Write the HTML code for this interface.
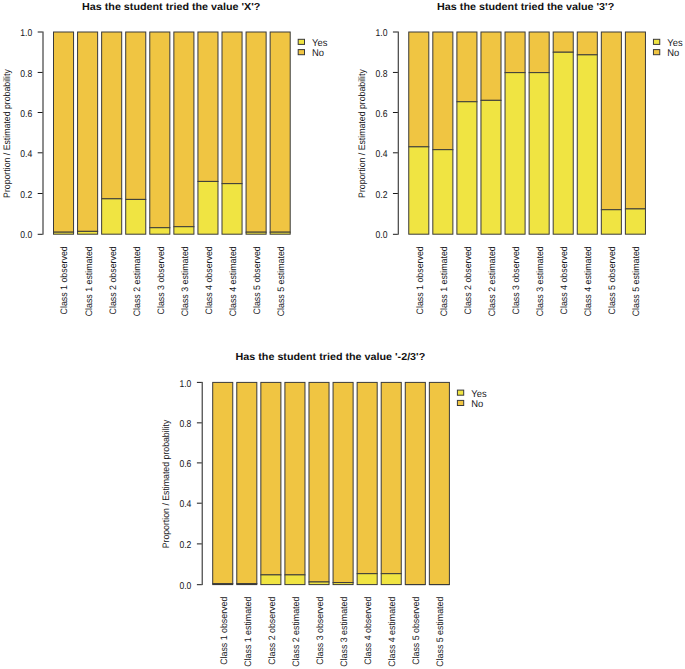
<!DOCTYPE html>
<html><head><meta charset="utf-8"><title>Has the student tried the value</title>
<style>
html,body{margin:0;padding:0;background:#fff;width:685px;height:669px;overflow:hidden}
svg{display:block}
text{font-family:"Liberation Sans",sans-serif;fill:#222;text-rendering:geometricPrecision}
.t{font-weight:bold;font-size:10.2px;fill:#111}
.a{font-size:9.4px;fill:#161620}
.tl{font-size:9.9px}
.lg{font-size:9.9px}
.ax{stroke:#000;stroke-width:0.9}
.tk{stroke:#000;stroke-width:0.9}
.b{stroke:#3a3a3a;stroke-width:1}
</style></head>
<body>
<svg width="685" height="669" viewBox="0 0 685 669">
<g transform="translate(0,0)">
<text transform="translate(171.20,10.00) scale(1.055,1)" text-anchor="middle" class="t">Has the student tried the value 'X'?</text>
<line x1="43.0" y1="31.5" x2="43.0" y2="234.7" class="ax"/>
<line x1="37.7" y1="234.30" x2="42.55" y2="234.30" class="tk"/>
<text transform="translate(32.20,238.40) scale(0.87,1)" text-anchor="end" class="a tl">0.0</text>
<line x1="37.7" y1="193.50" x2="42.55" y2="193.50" class="tk"/>
<text transform="translate(32.20,197.60) scale(0.87,1)" text-anchor="end" class="a tl">0.2</text>
<line x1="37.7" y1="152.80" x2="42.55" y2="152.80" class="tk"/>
<text transform="translate(32.20,156.90) scale(0.87,1)" text-anchor="end" class="a tl">0.4</text>
<line x1="37.7" y1="112.50" x2="42.55" y2="112.50" class="tk"/>
<text transform="translate(32.20,116.60) scale(0.87,1)" text-anchor="end" class="a tl">0.6</text>
<line x1="37.7" y1="72.45" x2="42.55" y2="72.45" class="tk"/>
<text transform="translate(32.20,76.55) scale(0.87,1)" text-anchor="end" class="a tl">0.8</text>
<line x1="37.7" y1="32.00" x2="42.55" y2="32.00" class="tk"/>
<text transform="translate(32.20,36.10) scale(0.87,1)" text-anchor="end" class="a tl">1.0</text>
<text transform="translate(10.10,133.60) rotate(-90) scale(0.932,1)" text-anchor="middle" class="a">Proportion / Estimated probability</text>
<rect x="53.50" y="32.00" width="20.06" height="200.18" fill="#F0C542" class="b"/>
<rect x="53.50" y="232.18" width="20.06" height="2.02" fill="#F0E442" class="b"/>
<text transform="translate(67.43,246.30) rotate(-90) scale(0.94,1)" text-anchor="end" class="a">Class 1 observed</text>
<rect x="77.57" y="32.00" width="20.06" height="199.37" fill="#F0C542" class="b"/>
<rect x="77.57" y="231.37" width="20.06" height="2.83" fill="#F0E442" class="b"/>
<text transform="translate(91.50,246.30) rotate(-90) scale(0.94,1)" text-anchor="end" class="a">Class 1 estimated</text>
<rect x="101.64" y="32.00" width="20.06" height="166.81" fill="#F0C542" class="b"/>
<rect x="101.64" y="198.81" width="20.06" height="35.38" fill="#F0E442" class="b"/>
<text transform="translate(115.57,246.30) rotate(-90) scale(0.94,1)" text-anchor="end" class="a">Class 2 observed</text>
<rect x="125.71" y="32.00" width="20.06" height="167.42" fill="#F0C542" class="b"/>
<rect x="125.71" y="199.42" width="20.06" height="34.78" fill="#F0E442" class="b"/>
<text transform="translate(139.64,246.30) rotate(-90) scale(0.94,1)" text-anchor="end" class="a">Class 2 estimated</text>
<rect x="149.78" y="32.00" width="20.06" height="195.73" fill="#F0C542" class="b"/>
<rect x="149.78" y="227.73" width="20.06" height="6.47" fill="#F0E442" class="b"/>
<text transform="translate(163.71,246.30) rotate(-90) scale(0.94,1)" text-anchor="end" class="a">Class 3 observed</text>
<rect x="173.86" y="32.00" width="20.06" height="194.72" fill="#F0C542" class="b"/>
<rect x="173.86" y="226.72" width="20.06" height="7.48" fill="#F0E442" class="b"/>
<text transform="translate(187.79,246.30) rotate(-90) scale(0.94,1)" text-anchor="end" class="a">Class 3 estimated</text>
<rect x="197.93" y="32.00" width="20.06" height="149.43" fill="#F0C542" class="b"/>
<rect x="197.93" y="181.43" width="20.06" height="52.77" fill="#F0E442" class="b"/>
<text transform="translate(211.86,246.30) rotate(-90) scale(0.94,1)" text-anchor="end" class="a">Class 4 observed</text>
<rect x="222.00" y="32.00" width="20.06" height="151.65" fill="#F0C542" class="b"/>
<rect x="222.00" y="183.65" width="20.06" height="50.55" fill="#F0E442" class="b"/>
<text transform="translate(235.93,246.30) rotate(-90) scale(0.94,1)" text-anchor="end" class="a">Class 4 estimated</text>
<rect x="246.07" y="32.00" width="20.06" height="200.18" fill="#F0C542" class="b"/>
<rect x="246.07" y="232.18" width="20.06" height="2.02" fill="#F0E442" class="b"/>
<text transform="translate(260.00,246.30) rotate(-90) scale(0.94,1)" text-anchor="end" class="a">Class 5 observed</text>
<rect x="270.14" y="32.00" width="20.06" height="200.18" fill="#F0C542" class="b"/>
<rect x="270.14" y="232.18" width="20.06" height="2.02" fill="#F0E442" class="b"/>
<text transform="translate(284.07,246.30) rotate(-90) scale(0.94,1)" text-anchor="end" class="a">Class 5 estimated</text>
<g transform="translate(0,0.0)">
<rect x="298.2" y="39.3" width="6.3" height="5.1" fill="#F0E442" class="b"/>
<rect x="298.2" y="49.6" width="6.3" height="5.1" fill="#F0C542" class="b"/>
<text transform="translate(312.10,45.90) scale(0.95,1)" class="a lg">Yes</text>
<text transform="translate(312.10,55.90) scale(0.95,1)" class="a lg">No</text>
</g>
</g>
<g transform="translate(355.25,0)">
<text transform="translate(170.40,10.00) scale(1.055,1)" text-anchor="middle" class="t">Has the student tried the value '3'?</text>
<line x1="43.0" y1="31.5" x2="43.0" y2="234.7" class="ax"/>
<line x1="37.7" y1="234.30" x2="42.55" y2="234.30" class="tk"/>
<text transform="translate(32.20,238.40) scale(0.87,1)" text-anchor="end" class="a tl">0.0</text>
<line x1="37.7" y1="193.50" x2="42.55" y2="193.50" class="tk"/>
<text transform="translate(32.20,197.60) scale(0.87,1)" text-anchor="end" class="a tl">0.2</text>
<line x1="37.7" y1="152.80" x2="42.55" y2="152.80" class="tk"/>
<text transform="translate(32.20,156.90) scale(0.87,1)" text-anchor="end" class="a tl">0.4</text>
<line x1="37.7" y1="112.50" x2="42.55" y2="112.50" class="tk"/>
<text transform="translate(32.20,116.60) scale(0.87,1)" text-anchor="end" class="a tl">0.6</text>
<line x1="37.7" y1="72.45" x2="42.55" y2="72.45" class="tk"/>
<text transform="translate(32.20,76.55) scale(0.87,1)" text-anchor="end" class="a tl">0.8</text>
<line x1="37.7" y1="32.00" x2="42.55" y2="32.00" class="tk"/>
<text transform="translate(32.20,36.10) scale(0.87,1)" text-anchor="end" class="a tl">1.0</text>
<text transform="translate(10.10,133.60) rotate(-90) scale(0.932,1)" text-anchor="middle" class="a">Proportion / Estimated probability</text>
<rect x="53.50" y="32.00" width="20.06" height="114.85" fill="#F0C542" class="b"/>
<rect x="53.50" y="146.85" width="20.06" height="87.35" fill="#F0E442" class="b"/>
<text transform="translate(67.43,246.30) rotate(-90) scale(0.94,1)" text-anchor="end" class="a">Class 1 observed</text>
<rect x="77.57" y="32.00" width="20.06" height="117.68" fill="#F0C542" class="b"/>
<rect x="77.57" y="149.68" width="20.06" height="84.52" fill="#F0E442" class="b"/>
<text transform="translate(91.50,246.30) rotate(-90) scale(0.94,1)" text-anchor="end" class="a">Class 1 estimated</text>
<rect x="101.64" y="32.00" width="20.06" height="69.76" fill="#F0C542" class="b"/>
<rect x="101.64" y="101.76" width="20.06" height="132.44" fill="#F0E442" class="b"/>
<text transform="translate(115.57,246.30) rotate(-90) scale(0.94,1)" text-anchor="end" class="a">Class 2 observed</text>
<rect x="125.71" y="32.00" width="20.06" height="68.34" fill="#F0C542" class="b"/>
<rect x="125.71" y="100.34" width="20.06" height="133.86" fill="#F0E442" class="b"/>
<text transform="translate(139.64,246.30) rotate(-90) scale(0.94,1)" text-anchor="end" class="a">Class 2 estimated</text>
<rect x="149.78" y="32.00" width="20.06" height="40.64" fill="#F0C542" class="b"/>
<rect x="149.78" y="72.64" width="20.06" height="161.56" fill="#F0E442" class="b"/>
<text transform="translate(163.71,246.30) rotate(-90) scale(0.94,1)" text-anchor="end" class="a">Class 3 observed</text>
<rect x="173.86" y="32.00" width="20.06" height="40.64" fill="#F0C542" class="b"/>
<rect x="173.86" y="72.64" width="20.06" height="161.56" fill="#F0E442" class="b"/>
<text transform="translate(187.79,246.30) rotate(-90) scale(0.94,1)" text-anchor="end" class="a">Class 3 estimated</text>
<rect x="197.93" y="32.00" width="20.06" height="20.22" fill="#F0C542" class="b"/>
<rect x="197.93" y="52.22" width="20.06" height="181.98" fill="#F0E442" class="b"/>
<text transform="translate(211.86,246.30) rotate(-90) scale(0.94,1)" text-anchor="end" class="a">Class 4 observed</text>
<rect x="222.00" y="32.00" width="20.06" height="22.85" fill="#F0C542" class="b"/>
<rect x="222.00" y="54.85" width="20.06" height="179.35" fill="#F0E442" class="b"/>
<text transform="translate(235.93,246.30) rotate(-90) scale(0.94,1)" text-anchor="end" class="a">Class 4 estimated</text>
<rect x="246.07" y="32.00" width="20.06" height="177.73" fill="#F0C542" class="b"/>
<rect x="246.07" y="209.73" width="20.06" height="24.47" fill="#F0E442" class="b"/>
<text transform="translate(260.00,246.30) rotate(-90) scale(0.94,1)" text-anchor="end" class="a">Class 5 observed</text>
<rect x="270.14" y="32.00" width="20.06" height="176.92" fill="#F0C542" class="b"/>
<rect x="270.14" y="208.92" width="20.06" height="25.27" fill="#F0E442" class="b"/>
<text transform="translate(284.07,246.30) rotate(-90) scale(0.94,1)" text-anchor="end" class="a">Class 5 estimated</text>
<g transform="translate(0,0.0)">
<rect x="298.2" y="39.3" width="6.3" height="5.1" fill="#F0E442" class="b"/>
<rect x="298.2" y="49.6" width="6.3" height="5.1" fill="#F0C542" class="b"/>
<text transform="translate(312.10,45.90) scale(0.95,1)" class="a lg">Yes</text>
<text transform="translate(312.10,55.90) scale(0.95,1)" class="a lg">No</text>
</g>
</g>
<g transform="translate(159.2,350.4)">
<text transform="translate(171.20,10.00) scale(1.055,1)" text-anchor="middle" class="t">Has the student tried the value '-2/3'?</text>
<line x1="43.0" y1="31.5" x2="43.0" y2="234.7" class="ax"/>
<line x1="37.7" y1="234.30" x2="42.55" y2="234.30" class="tk"/>
<text transform="translate(32.20,238.40) scale(0.87,1)" text-anchor="end" class="a tl">0.0</text>
<line x1="37.7" y1="193.50" x2="42.55" y2="193.50" class="tk"/>
<text transform="translate(32.20,197.60) scale(0.87,1)" text-anchor="end" class="a tl">0.2</text>
<line x1="37.7" y1="152.80" x2="42.55" y2="152.80" class="tk"/>
<text transform="translate(32.20,156.90) scale(0.87,1)" text-anchor="end" class="a tl">0.4</text>
<line x1="37.7" y1="112.50" x2="42.55" y2="112.50" class="tk"/>
<text transform="translate(32.20,116.60) scale(0.87,1)" text-anchor="end" class="a tl">0.6</text>
<line x1="37.7" y1="72.45" x2="42.55" y2="72.45" class="tk"/>
<text transform="translate(32.20,76.55) scale(0.87,1)" text-anchor="end" class="a tl">0.8</text>
<line x1="37.7" y1="32.00" x2="42.55" y2="32.00" class="tk"/>
<text transform="translate(32.20,36.10) scale(0.87,1)" text-anchor="end" class="a tl">1.0</text>
<text transform="translate(10.10,133.60) rotate(-90) scale(0.932,1)" text-anchor="middle" class="a">Proportion / Estimated probability</text>
<rect x="53.50" y="32.00" width="20.06" height="201.19" fill="#F0C542" class="b"/>
<rect x="53.50" y="233.19" width="20.06" height="1.01" fill="#F0E442" class="b"/>
<text transform="translate(67.43,246.30) rotate(-90) scale(0.94,1)" text-anchor="end" class="a">Class 1 observed</text>
<rect x="77.57" y="32.00" width="20.06" height="201.19" fill="#F0C542" class="b"/>
<rect x="77.57" y="233.19" width="20.06" height="1.01" fill="#F0E442" class="b"/>
<text transform="translate(91.50,246.30) rotate(-90) scale(0.94,1)" text-anchor="end" class="a">Class 1 estimated</text>
<rect x="101.64" y="32.00" width="20.06" height="192.49" fill="#F0C542" class="b"/>
<rect x="101.64" y="224.49" width="20.06" height="9.71" fill="#F0E442" class="b"/>
<text transform="translate(115.57,246.30) rotate(-90) scale(0.94,1)" text-anchor="end" class="a">Class 2 observed</text>
<rect x="125.71" y="32.00" width="20.06" height="192.49" fill="#F0C542" class="b"/>
<rect x="125.71" y="224.49" width="20.06" height="9.71" fill="#F0E442" class="b"/>
<text transform="translate(139.64,246.30) rotate(-90) scale(0.94,1)" text-anchor="end" class="a">Class 2 estimated</text>
<rect x="149.78" y="32.00" width="20.06" height="199.57" fill="#F0C542" class="b"/>
<rect x="149.78" y="231.57" width="20.06" height="2.63" fill="#F0E442" class="b"/>
<text transform="translate(163.71,246.30) rotate(-90) scale(0.94,1)" text-anchor="end" class="a">Class 3 observed</text>
<rect x="173.86" y="32.00" width="20.06" height="200.18" fill="#F0C542" class="b"/>
<rect x="173.86" y="232.18" width="20.06" height="2.02" fill="#F0E442" class="b"/>
<text transform="translate(187.79,246.30) rotate(-90) scale(0.94,1)" text-anchor="end" class="a">Class 3 estimated</text>
<rect x="197.93" y="32.00" width="20.06" height="191.28" fill="#F0C542" class="b"/>
<rect x="197.93" y="223.28" width="20.06" height="10.92" fill="#F0E442" class="b"/>
<text transform="translate(211.86,246.30) rotate(-90) scale(0.94,1)" text-anchor="end" class="a">Class 4 observed</text>
<rect x="222.00" y="32.00" width="20.06" height="191.28" fill="#F0C542" class="b"/>
<rect x="222.00" y="223.28" width="20.06" height="10.92" fill="#F0E442" class="b"/>
<text transform="translate(235.93,246.30) rotate(-90) scale(0.94,1)" text-anchor="end" class="a">Class 4 estimated</text>
<rect x="246.07" y="32.00" width="20.06" height="202.20" fill="#F0C542" class="b"/>
<line x1="246.07" y1="234.2" x2="266.13" y2="234.2" class="b"/>
<text transform="translate(260.00,246.30) rotate(-90) scale(0.94,1)" text-anchor="end" class="a">Class 5 observed</text>
<rect x="270.14" y="32.00" width="20.06" height="202.20" fill="#F0C542" class="b"/>
<line x1="270.14" y1="234.2" x2="290.20" y2="234.2" class="b"/>
<text transform="translate(284.07,246.30) rotate(-90) scale(0.94,1)" text-anchor="end" class="a">Class 5 estimated</text>
<g transform="translate(0,0.4)">
<rect x="298.2" y="39.3" width="6.3" height="5.1" fill="#F0E442" class="b"/>
<rect x="298.2" y="49.6" width="6.3" height="5.1" fill="#F0C542" class="b"/>
<text transform="translate(312.10,45.90) scale(0.95,1)" class="a lg">Yes</text>
<text transform="translate(312.10,55.90) scale(0.95,1)" class="a lg">No</text>
</g>
</g>
</svg>
</body></html>
